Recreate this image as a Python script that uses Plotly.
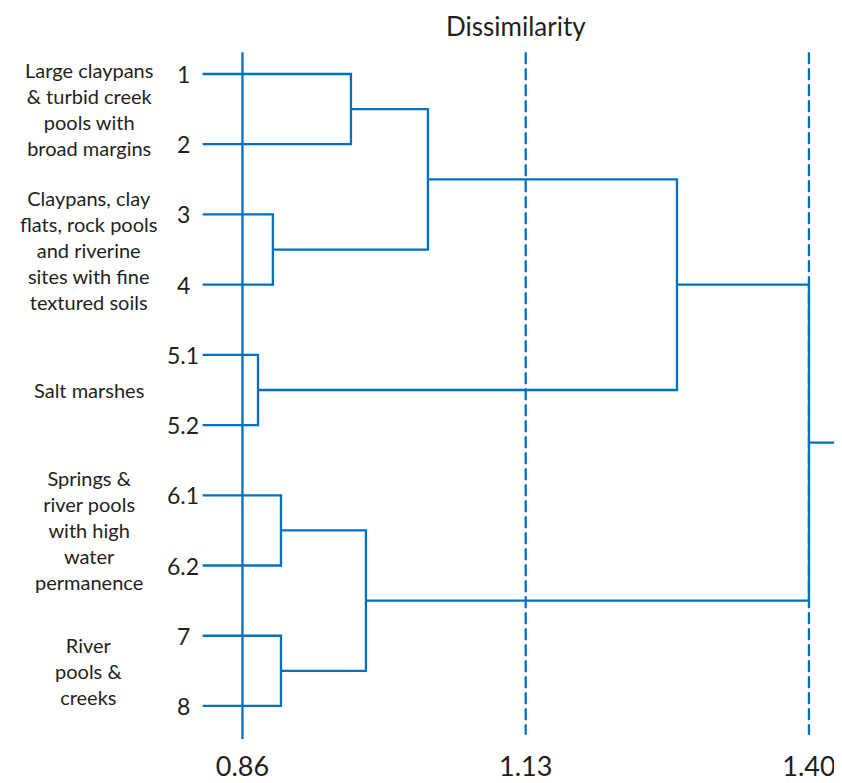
import plotly.graph_objects as go

# ---- data ----
leaf_labels = ["1", "2", "3", "4", "5.1", "5.2", "6.1", "6.2", "7", "8"]
# linkage: (left node, right node, dissimilarity); nodes 0-9 are leaves, 10+ are merges
merge_left = [0, 2, 4, 6, 8, 10, 13, 15, 17]
merge_right = [1, 3, 5, 7, 9, 11, 14, 12, 16]
merge_height = [0.9634, 0.889, 0.8748, 0.8967, 0.8967, 1.0368, 0.9777, 1.2742, 1.40]
group_labels = [
    "Large claypans<br>& turbid creek<br>pools with<br>broad margins",
    "Claypans, clay<br>flats, rock pools<br>and riverine<br>sites with fine<br>textured soils",
    "Salt marshes",
    "Springs &<br>river pools<br>with high<br>water<br>permanence",
    "River<br>pools &<br>creeks",
]
group_leaves = [(0, 1), (2, 3), (4, 5), (6, 7), (8, 9)]
tick_vals = [0.86, 1.13, 1.40]
tick_text = ["0.86", "1.13", "1.40"]
axis_title = "Dissimilarity"

# ---- layout constants ----
# page body has an 8px margin, so the figure is drawn 8px smaller
W, H = 834, 775
leaf_start = 0.822
x_range = [0.6365, 1.4315]
y_range = [9.556, -0.940]
BLUE = "#0070C0"
TXT = "#231F20"
FONT = "Lato"

n = len(leaf_labels)
node_x = {i: leaf_start for i in range(n)}
node_y = {i: float(i) for i in range(n)}

xs, ys = [], []
for k, (a, b, h) in enumerate(zip(merge_left, merge_right, merge_height)):
    idx = n + k
    ya, yb = node_y[a], node_y[b]
    xs += [node_x[a], h, h, node_x[b], None]
    ys += [ya, ya, yb, yb, None]
    node_x[idx] = h
    node_y[idx] = (ya + yb) / 2
root = n + len(merge_height) - 1
xs += [node_x[root], x_range[1], None]
ys += [node_y[root], node_y[root], None]

fig = go.Figure()
fig.add_trace(go.Scatter(x=xs, y=ys, mode="lines",
                         line=dict(color=BLUE, width=2.3),
                         hoverinfo="skip", showlegend=False))

# reference lines
for i, tv in enumerate(tick_vals):
    fig.add_shape(type="line", xref="x", yref="y", x0=tv, x1=tv,
                  y0=-0.31, y1=9.47 if i == 0 else 9.41,
                  line=dict(color=BLUE, width=2.3,
                            dash="solid" if i == 0 else "12px,4px"),
                  layer="below")

# leaf labels
for i, lab in enumerate(leaf_labels):
    fig.add_annotation(x=0.8035, y=i, xref="x", yref="y", text=lab,
                       showarrow=False, xanchor="center",
                       font=dict(family=FONT, size=23, color=TXT))

# group labels
for lab, (a, b) in zip(group_labels, group_leaves):
    fig.add_annotation(x=0.7137, y=(a + b) / 2, xref="x", yref="y", text=lab,
                       showarrow=False, xanchor="center", yanchor="middle",
                       align="center",
                       font=dict(family=FONT, size=20, color=TXT))

# title
fig.add_annotation(x=1.1207, y=1, xref="x", yref="paper",
                   text=axis_title, showarrow=False, yanchor="top",
                   font=dict(family=FONT, size=26, color=TXT))

fig.update_layout(
    width=W, height=H,
    margin=dict(l=0, r=0, t=0, b=38),
    paper_bgcolor="white", plot_bgcolor="white",
    xaxis=dict(range=x_range, tickvals=tick_vals, ticktext=tick_text,
               showgrid=False, zeroline=False, showline=False, ticks="",
               automargin=False, ticklabelstandoff=3,
               tickfont=dict(family=FONT, size=27, color=TXT)),
    yaxis=dict(range=y_range, showgrid=False, zeroline=False,
               showticklabels=False, showline=False, ticks="",
               automargin=False),
)

fig.write_html("out.html")
